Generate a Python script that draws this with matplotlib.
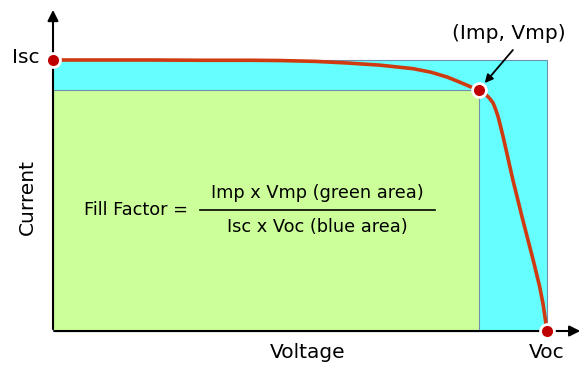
import numpy as np
import matplotlib.pyplot as plt
from matplotlib.patches import Rectangle

# I-V curve (normalised: Voc = 1, Isc = 1)
voltaje = [0.0, 0.10, 0.196, 0.30, 0.40, 0.46, 0.53, 0.595, 0.662, 0.729, 0.765, 0.798, 0.825, 0.848, 0.862,
           0.870, 0.877, 0.884, 0.891, 0.896, 0.901, 0.906, 0.911, 0.921, 0.931, 0.951, 0.972, 0.985, 0.992, 1.0]
corriente = [1.0, 1.0, 1.0, 0.999, 0.999, 0.998, 0.995, 0.989, 0.981, 0.968, 0.955, 0.937, 0.917, 0.899, 0.889,
             0.881, 0.871, 0.858, 0.841, 0.818, 0.791, 0.755, 0.718, 0.638, 0.557, 0.410, 0.262, 0.165, 0.100, 0.0]

Isc = 1.0
Voc = 1.0
Vmp = 0.862
Imp = 0.889

fig = plt.figure(figsize=(5.84, 3.68), dpi=100)
ax = fig.add_axes([0, 0, 1, 1])
ax.set_xlim(-0.1073, 1.0749)
ax.set_ylim(-0.1365, 1.2214)
ax.axis('off')

# areas
ax.add_patch(Rectangle((0, 0), Voc, Isc, facecolor='#66FFFF', edgecolor='#6E8FB0', linewidth=0.8, zorder=1))
ax.add_patch(Rectangle((0, 0), Vmp, Imp, facecolor='#CCFF99', edgecolor='#6E8FB0', linewidth=0.8, zorder=2))

# ejes con flechas
ax.annotate('', xy=(0, 1.195), xytext=(0, -0.003),
            arrowprops=dict(arrowstyle='-|>', color='black', lw=1.5, mutation_scale=16), zorder=3)
ax.annotate('', xy=(1.073, 0), xytext=(-0.003, 0),
            arrowprops=dict(arrowstyle='-|>', color='black', lw=1.5, mutation_scale=16), zorder=3)

# curva
ax.plot(voltaje, corriente, color='#D03A10', linewidth=2.6, zorder=4,
        solid_capstyle='round', solid_joinstyle='round')

# puntos
ax.plot([0, Vmp, Voc], [Isc, Imp, 0], 'o', color='#C00000', markersize=10,
        markeredgecolor='white', markeredgewidth=2, zorder=5, clip_on=False)

fs = 14.5
ax.text(-0.028, Isc + 0.01, 'Isc', ha='right', va='center', fontsize=fs)
ax.text(Voc, -0.0775, 'Voc', ha='center', va='center', fontsize=fs)
ax.text(0.516, -0.0775, 'Voltage', ha='center', va='center', fontsize=fs)
ax.text(-0.051, 0.494, 'Current', ha='center', va='center', rotation=90, fontsize=fs)

ax.text(0.923, 1.096, '(Imp, Vmp)', ha='center', va='center', fontsize=fs)
ax.annotate('', xy=(0.874, 0.915), xytext=(0.931, 1.037),
            arrowprops=dict(arrowstyle='-|>', color='black', lw=1.3, mutation_scale=12,
                            shrinkA=0, shrinkB=0), zorder=6)

# fórmula
fs2 = 12.8
ax.text(0.273, 0.446, 'Fill Factor =', ha='right', va='center', fontsize=fs2)
ax.text(0.535, 0.509, 'Imp x Vmp (green area)', ha='center', va='center', fontsize=fs2)
ax.text(0.535, 0.384, 'Isc x Voc (blue area)', ha='center', va='center', fontsize=fs2)
ax.plot([0.298, 0.774], [0.446, 0.446], color='black', lw=1.2, zorder=3)

fig.savefig('out.png', dpi=100)
